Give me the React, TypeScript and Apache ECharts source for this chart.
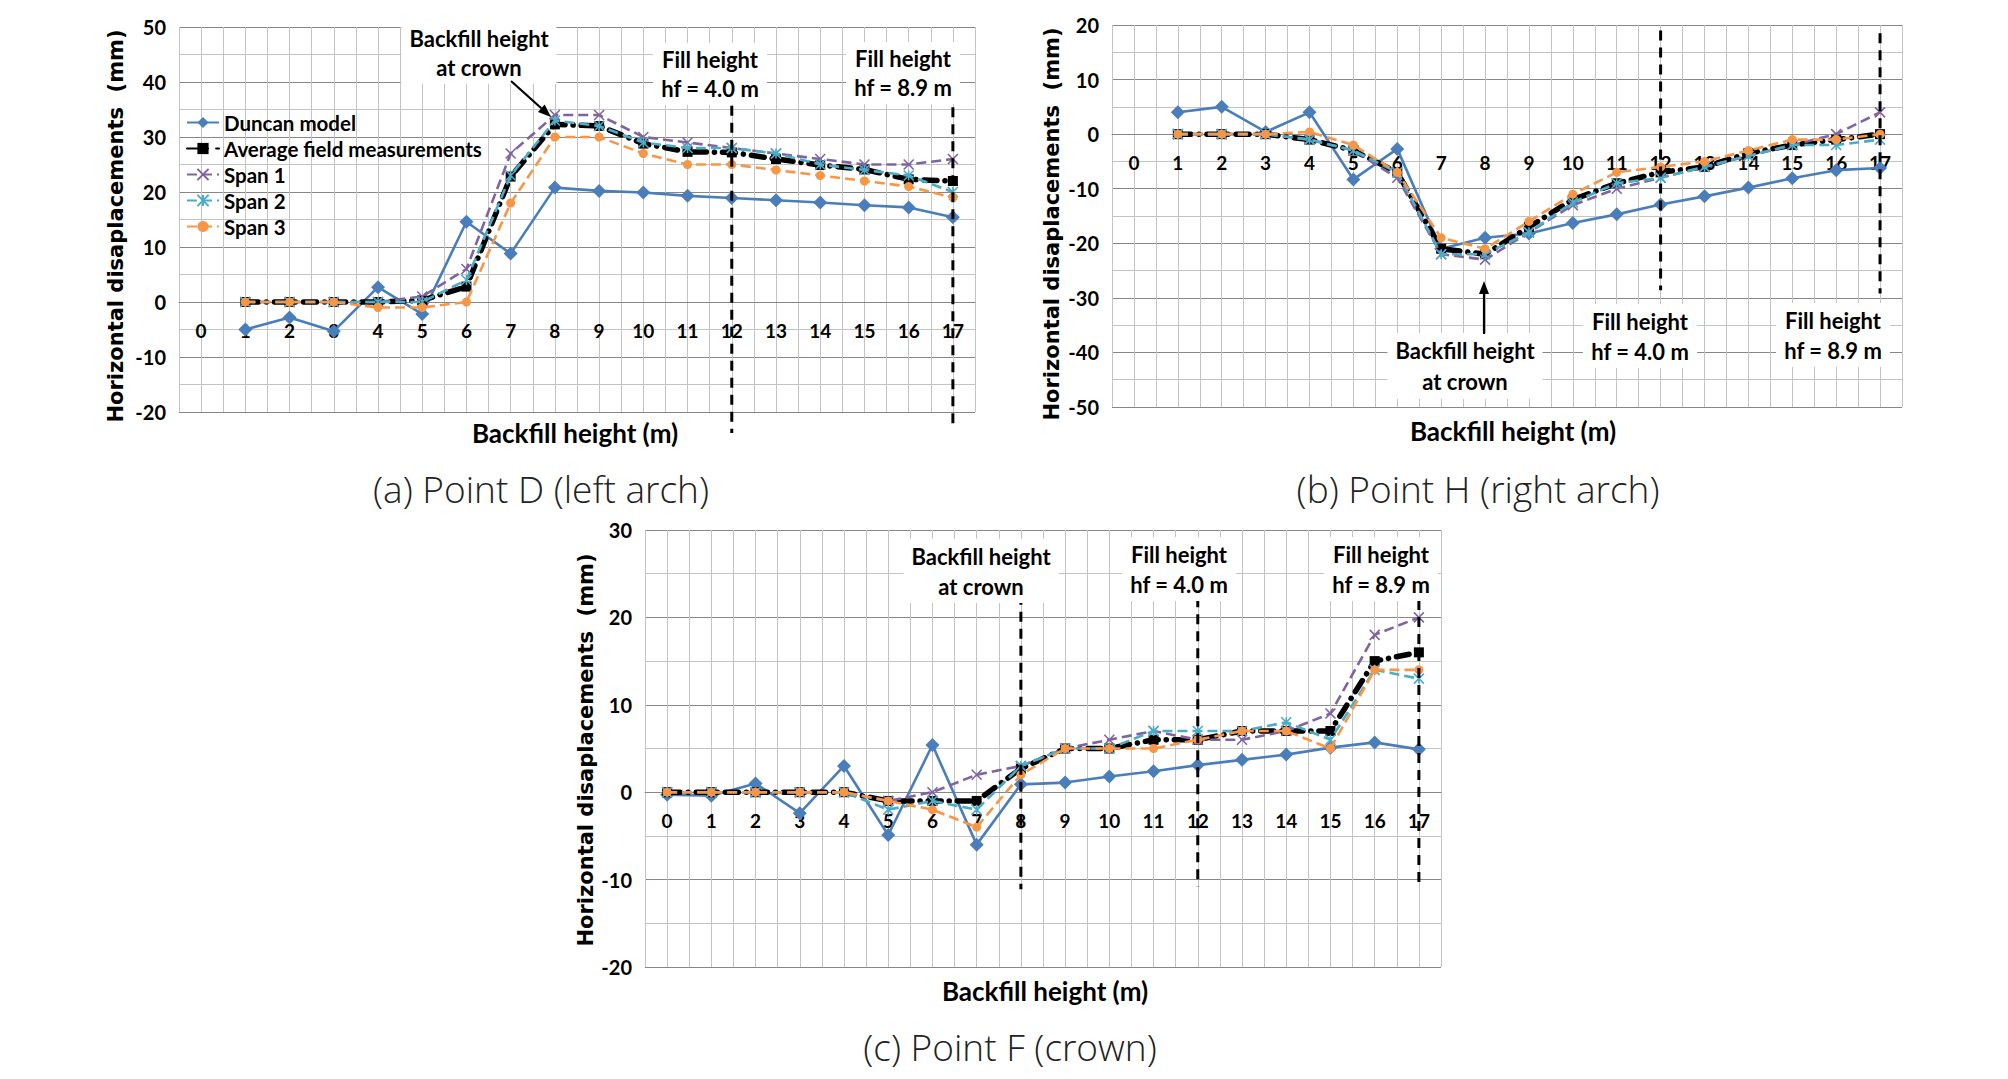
import React, { useEffect, useRef } from "react";
import * as echarts from "echarts";

// ---------- data ----------
const heights = [0, 1, 2, 3, 4, 5, 6, 7, 8, 9, 10, 11, 12, 13, 14, 15, 16, 17];
const seriesNames = ["Duncan model", "Average field measurements", "Span 1", "Span 2", "Span 3"];

// (a) Point D (left arch)
const duncanD = [null, -5.0, -2.8, -5.3, 2.7, -2.2, 14.6, 8.8, 20.8, 20.2, 19.9, 19.3, 18.9, 18.5, 18.1, 17.6, 17.2, 15.4];
const averageD = [null, 0, 0, 0, 0, 0.3, 2.8, 22.8, 32.3, 32.0, 28.8, 27.3, 27.2, 26.0, 24.9, 24.1, 22.3, 22.0];
const span1D = [null, 0, 0, 0, 0, 1, 6, 27, 34, 34, 30, 29, 28, 27, 26, 25, 25, 26];
const span2D = [null, 0, 0, 0, 0, 0, 4, 23, 33, 32, 29, 28, 28, 27, 25, 24, 23, 20];
const span3D = [null, 0, 0, 0, -1, -1, 0, 18, 30, 30, 27, 25, 25, 24, 23, 22, 21, 19];

// (b) Point H (right arch)
const duncanH = [null, 4.0, 5.0, 0.4, 4.0, -8.3, -2.7, -21.0, -19.0, -18.2, -16.3, -14.7, -12.9, -11.4, -9.8, -8.1, -6.6, -6.2];
const averageH = [null, 0, 0, 0, -1, -3, -7, -21, -22, -17, -12, -9, -7, -6, -3.5, -2, -1, 0];
const span1H = [null, 0, 0, 0, -1, -3, -8, -22, -23, -18, -13, -10, -8, -6, -4, -2, 0, 4];
const span2H = [null, 0, 0, 0, -1, -3, -7, -22, -22, -18, -12.5, -9, -8, -6, -4, -2, -2, -1];
const span3H = [null, 0, 0, 0, 0.4, -2, -7, -19, -21, -16, -11, -7, -6, -5, -3, -1, -1, 0];

// (c) Point F (crown)
const duncanF = [-0.3, -0.4, 1.0, -2.4, 3.0, -4.9, 5.4, -6.0, 0.9, 1.1, 1.8, 2.4, 3.1, 3.7, 4.3, 5.1, 5.7, 4.9];
const averageF = [0, 0, 0, 0, 0, -1, -1, -1, 2.7, 5, 5, 6, 6, 7, 7, 7, 15, 16];
const span1F = [0, 0, 0, 0, 0, -1, 0, 2, 3, 5, 6, 7, 6, 6, 7, 9, 18, 20];
const span2F = [0, 0, 0, 0, 0, -2, -1, -2, 3, 5, 5, 7, 7, 7, 8, 6, 14, 13];
const span3F = [0, 0, 0, 0, 0, -1, -2, -4, 2, 5, 5, 5, 6, 7, 7, 5, 14, 14];

// y-axis ranges
const yRangeD = [-20, 50];
const yRangeH = [-50, 20];
const yRangeF = [-20, 30];

// dashed guide lines (backfill height, top value, bottom value)
const guidesD = [[12, 35.7, -23.8], [17, 35.4, -22.5]];
const guidesH = [[12, 19, -28.6], [17, 18.5, -29.2]];
const guidesF = [[8, 22.6, -11.1], [12, 22.3, -10.8], [17, 22, -10.8]];

const captions = ["(a) Point D (left arch)", "(b) Point H (right arch)", "(c) Point F (crown)"];
const xTitle = "Backfill height (m)";
const yTitle = "Horizontal disaplacements  (mm)";

// ---------- styles ----------
const COLORS = ["#4a7ebb", "#000000", "#8064a2", "#4bacc6", "#f79646"];
const SYMBOLS = [
  "diamond",
  "rect",
  "path://M0,0L10,10M10,0L0,10",
  "path://M0,0L10,10M10,0L0,10M5,0L5,10",
  "circle",
];
const SYMBOL_SIZES = [14, 10, 10, 10, 9];
const TICK_FONT = "Lato";
const MAJOR = "#878787";
const MINOR = "#c4c4c4";

const PANELS = [
  { grid: { left: 179, top: 27, width: 796, height: 385 }, range: yRangeD, data: [duncanD, averageD, span1D, span2D, span3D], guides: guidesD },
  { grid: { left: 1112, top: 25, width: 790, height: 382 }, range: yRangeH, data: [duncanH, averageH, span1H, span2H, span3H], guides: guidesH },
  { grid: { left: 645, top: 530, width: 796, height: 437 }, range: yRangeF, data: [duncanF, averageF, span1F, span2F, span3F], guides: guidesF },
];

function pairs(vals: (number | null)[]) {
  const out: number[][] = [];
  heights.forEach((h, i) => {
    if (vals[i] !== null && vals[i] !== undefined) out.push([h, vals[i] as number]);
  });
  return out;
}

function boxText(text: string, x: number, y: number, lh: number) {
  return {
    type: "text",
    z: 50,
    x,
    y,
    style: {
      text,
      fill: "#000",
      fontFamily: TICK_FONT,
      fontWeight: "bold",
      fontSize: 22,
      lineHeight: lh,
      align: "center",
      verticalAlign: "middle",
      backgroundColor: "#ffffff",
      padding: [2, 8],
    },
  };
}

function arrow(x1: number, y1: number, x2: number, y2: number) {
  const ang = Math.atan2(y2 - y1, x2 - x1);
  const L = 13, W = 5;
  const bx = x2 - L * Math.cos(ang), by = y2 - L * Math.sin(ang);
  const px = -Math.sin(ang) * W, py = Math.cos(ang) * W;
  return {
    type: "group",
    z: 51,
    children: [
      { type: "line", z: 51, shape: { x1, y1, x2: bx, y2: by }, style: { stroke: "#000", lineWidth: 2.2 } },
      { type: "polygon", z: 51, shape: { points: [[x2, y2], [bx + px, by + py], [bx - px, by - py]] }, style: { fill: "#000" } },
    ],
  };
}

function plainText(text: string, x: number, y: number, font: any, rotation = 0) {
  return {
    type: "text",
    z: 50,
    x,
    y,
    rotation,
    style: { text, fill: "#000", align: "center", verticalAlign: "middle", ...font },
  };
}

export default function App() {
  const ref = useRef<HTMLDivElement>(null);
  useEffect(() => {
    if (!ref.current) return;
    const chart = echarts.init(ref.current, undefined, { renderer: "svg" });

    const grid: any[] = [];
    const xAxis: any[] = [];
    const yAxis: any[] = [];
    const series: any[] = [];

    PANELS.forEach((p, i) => {
      grid.push({ ...p.grid, containLabel: false });
      // place the category axis (labels) on the zero line, as in the Excel chart
      const zeroOffset = -p.grid.height * (0 - p.range[0]) / (p.range[1] - p.range[0]);
      xAxis.push({
        type: "value",
        gridIndex: i,
        position: "bottom",
        offset: zeroOffset,
        min: -0.5,
        max: 17.5,
        interval: 0.5,
        axisLine: { show: true, onZero: false, lineStyle: { color: MAJOR, width: 1 } },
        axisTick: { show: false },
        axisLabel: {
          margin: 19,
          fontFamily: TICK_FONT,
          fontWeight: "bold",
          fontSize: 19,
          color: "#000",
          formatter: (v: number) => (Number.isInteger(v) && v >= 0 && v <= 17 ? String(v) : ""),
        },
        splitLine: { show: true, lineStyle: { color: MINOR, width: 1 } },
      });
      yAxis.push({
        type: "value",
        gridIndex: i,
        min: p.range[0],
        max: p.range[1],
        interval: 10,
        axisLine: { show: false },
        axisTick: { show: true, length: 6, lineStyle: { color: MAJOR } },
        axisLabel: { margin: 13, fontFamily: TICK_FONT, fontWeight: "bold", fontSize: 20, color: "#000" },
        splitLine: { show: true, lineStyle: { color: MAJOR, width: 1 } },
        minorTick: { show: false, splitNumber: 2 },
        minorSplitLine: { show: true, lineStyle: { color: MINOR, width: 1 } },
      });

      p.data.forEach((vals, k) => {
        const dashed = k >= 2;
        series.push({
          type: "line",
          name: seriesNames[k],
          xAxisIndex: i,
          yAxisIndex: i,
          data: pairs(vals),
          symbol: SYMBOLS[k],
          symbolSize: SYMBOL_SIZES[k],
          z: 3 + k,
          lineStyle:
            k === 1
              ? { color: "#000", width: 5.5, type: [13, 8, 0.1, 8], cap: "round" }
              : { color: COLORS[k], width: 2.6, type: dashed ? [10, 5] : "solid" },
          itemStyle: {
            color: COLORS[k],
            borderColor: COLORS[k],
            borderWidth: k >= 2 && k <= 3 ? 1.6 : 0,
          },
          emphasis: { disabled: true },
        });
      });

      p.guides.forEach((g) => {
        series.push({
          type: "line",
          xAxisIndex: i,
          yAxisIndex: i,
          data: [[g[0], g[1]], [g[0], g[2]]],
          symbol: "none",
          clip: false,
          silent: true,
          z: 20,
          lineStyle: { color: "#000", width: 3, type: [10, 7] },
        });
      });
    });

    const axisTitleFont = { fontFamily: TICK_FONT, fontWeight: "bold", fontSize: 26 };
    const yTitleFont = { fontFamily: "DejaVu Sans", fontWeight: "bold", fontSize: 21 };
    const capFont = { fontFamily: "Open Sans", fontWeight: 300, fontSize: 37, fill: "#222" };

    const graphic: any[] = [
      // axis titles
      plainText(xTitle, 575, 433, axisTitleFont),
      plainText(xTitle, 1513, 431, axisTitleFont),
      plainText(xTitle, 1045, 991, axisTitleFont),
      plainText(yTitle, 116, 226, yTitleFont, Math.PI / 2),
      plainText(yTitle, 1052, 224, yTitleFont, Math.PI / 2),
      plainText(yTitle, 586, 750, yTitleFont, Math.PI / 2),
      // captions
      plainText(captions[0], 541, 488, capFont),
      plainText(captions[1], 1478, 488, capFont),
      plainText(captions[2], 1010, 1046, capFont),
      // annotations (a)
      boxText("Backfill height\nat crown", 479, 53, 29),
      boxText("Fill height\nhf = 4.0 m", 710, 74, 29),
      boxText("Fill height\nhf = 8.9 m", 903, 73, 29),
      arrow(511, 81, 551, 117),
      // annotations (b)
      boxText("Backfill height\nat crown", 1465, 366, 31),
      boxText("Fill height\nhf = 4.0 m", 1640, 336, 30),
      boxText("Fill height\nhf = 8.9 m", 1833, 335, 30),
      arrow(1484, 334, 1484, 281),
      // annotations (c)
      boxText("Backfill height\nat crown", 981, 571, 30),
      boxText("Fill height\nhf = 4.0 m", 1179, 569, 30),
      boxText("Fill height\nhf = 8.9 m", 1381, 569, 30),
    ];

    chart.setOption({
      animation: false,
      backgroundColor: "#ffffff",
      grid,
      xAxis,
      yAxis,
      series,
      legend: {
        data: seriesNames,
        orient: "vertical",
        left: 186,
        top: 112,
        padding: 0,
        itemWidth: 32,
        itemHeight: 14,
        itemGap: 5,
        selectedMode: false,
        textStyle: { fontFamily: TICK_FONT, fontWeight: "bold", fontSize: 20.5, color: "#000" },
      },
      graphic,
    });

    return () => chart.dispose();
  }, []);

  return (
    <div
      ref={ref}
      style={{ position: "absolute", left: 0, top: 0, width: 2008, height: 1079, background: "#fff" }}
    />
  );
}
